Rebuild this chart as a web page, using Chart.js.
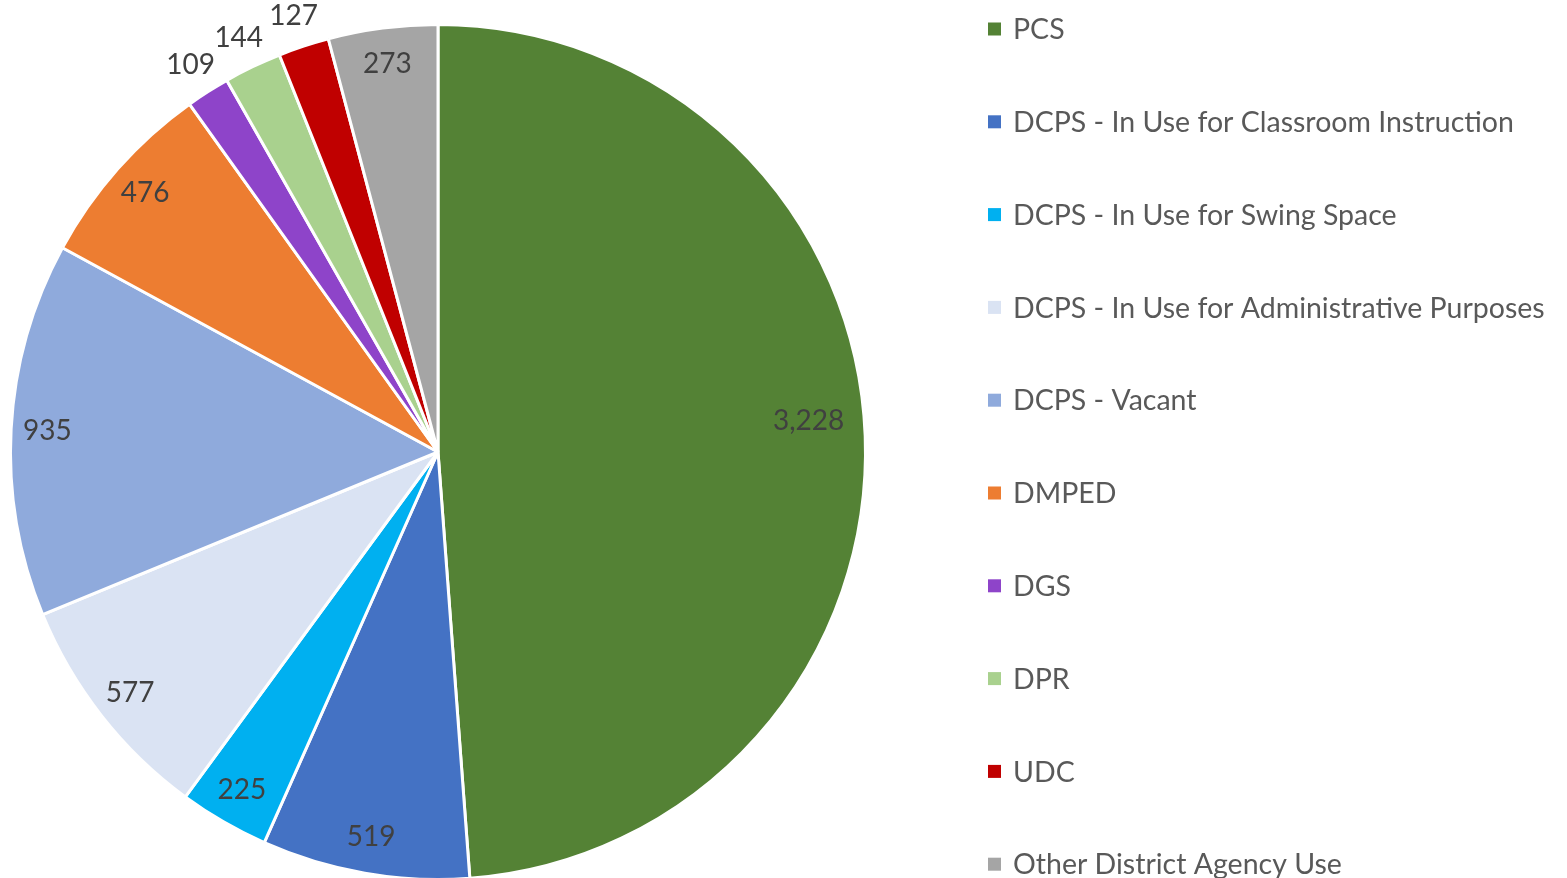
<!DOCTYPE html>
<html>
<head>
<meta charset="utf-8">
<script src="https://cdn.jsdelivr.net/npm/chart.js@4.4.0/dist/chart.umd.min.js"></script>
<style>
  html, body { margin: 0; padding: 0; background: #fff; overflow: hidden; }
  #wrap { width: 1567px; height: 904px; position: relative; }
</style>
</head>
<body>
<div id="wrap"><canvas id="pieChart"></canvas></div>
<script>
// ===== DATA =====
const categories = [
    'PCS',
    'DCPS - In Use for Classroom Instruction',
    'DCPS - In Use for Swing Space',
    'DCPS - In Use for Administrative Purposes',
    'DCPS - Vacant',
    'DMPED',
    'DGS',
    'DPR',
    'UDC',
    'Other District Agency Use'
];
const buildingCounts = [3228, 519, 225, 577, 935, 476, 109, 144, 127, 273];
const sliceColors = [
    '#548235', '#4472C4', '#00B0F0', '#DAE3F3', '#8FAADC',
    '#ED7D31', '#8E44C9', '#A9D18E', '#C00000', '#A5A5A5'
];

const FONT = 'Lato, "Open Sans", sans-serif';

// data labels: inside for normal slices, just outside for thin ones
const sliceLabels = {
    id: 'sliceLabels',
    afterDatasetsDraw(chart) {
        const ctx = chart.ctx;
        const meta = chart.getDatasetMeta(0);
        const total = buildingCounts.reduce((a, b) => a + b, 0);
        ctx.save();
        ctx.font = '28px ' + FONT;
        ctx.fillStyle = '#404040';
        ctx.textAlign = 'center';
        ctx.textBaseline = 'middle';
        meta.data.forEach((arc, i) => {
            const share = buildingCounts[i] / total;
            // biggest slice label sits a little above its mid angle, like the original
            const mid = (arc.startAngle + arc.endAngle) / 2 - (share > 0.4 ? 0.045 : 0);
            const f = share < 0.025 ? 1.075 : (share > 0.4 ? 0.87 : 0.915);
            const r = arc.outerRadius * f;
            const x = arc.x + Math.cos(mid) * r;
            const y = arc.y + Math.sin(mid) * r;
            ctx.fillText(buildingCounts[i].toLocaleString('en-US'), x, y);
        });
        ctx.restore();
    }
};

// ===== LEGEND (right column) =====
const sideLegend = {
    id: 'sideLegend',
    afterDraw(chart) {
        const ctx = chart.ctx;
        const x0 = 988, y0 = 29, step = 92.8, box = 13;
        ctx.save();
        ctx.font = '28.5px ' + FONT;
        ctx.textBaseline = 'middle';
        ctx.textAlign = 'left';
        categories.forEach((name, i) => {
            const y = y0 + i * step;
            ctx.fillStyle = sliceColors[i];
            ctx.fillRect(x0, y - box / 2, box, box);
            ctx.fillStyle = '#595959';
            ctx.fillText(name, x0 + 25, y + 1);
        });
        ctx.restore();
    }
};

new Chart(document.getElementById('pieChart'), {
    type: 'pie',
    data: {
        labels: categories,
        datasets: [{
            data: buildingCounts,
            backgroundColor: sliceColors,
            borderColor: '#ffffff',
            borderWidth: 3
        }]
    },
    options: {
        responsive: true,
        maintainAspectRatio: false,
        animation: false,
        layout: {
            padding: { left: 9, top: 22, bottom: 22, right: 700 }
        },
        plugins: {
            legend: { display: false },
            tooltip: { enabled: false }
        }
    },
    plugins: [sliceLabels, sideLegend]
});
</script>
</body>
</html>
